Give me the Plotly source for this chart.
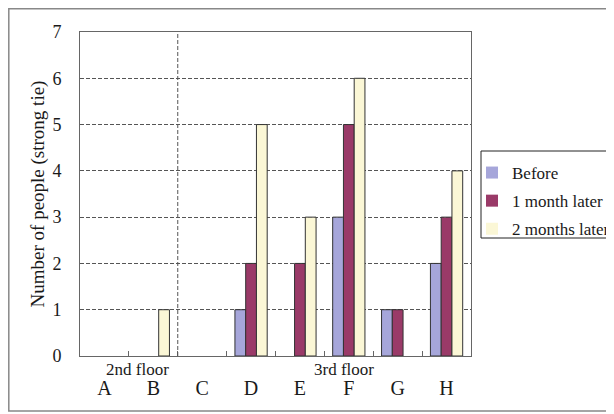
import plotly.graph_objects as go

categories = ["A", "B", "C", "D", "E", "F", "G", "H"]
before = [0, 0, 0, 1, 0, 3, 1, 2]
one_month = [0, 0, 0, 2, 2, 5, 1, 3]
two_months = [0, 1, 0, 5, 3, 6, 0, 4]
series_names = ["Before", "1 month later", "2 months later"]
colors = ["#A6A6DA", "#9A3A68", "#FBF7D6"]
y_ticks = [0, 1, 2, 3, 4, 5, 6, 7]

FONT = "Liberation Serif, Times New Roman, serif"
TXT = "#1a1a1a"

# page body has an 8px margin; positions below are in reference-screen pixels
OFF = 8
W, H = 614 - OFF, 414 - OFF
L = 80 - OFF
T = 32 - OFF
R = W - (471 - OFF)
B = H - (356 - OFF)
pw, ph = W - L - R, H - T - B

def px_x(p):
    return (p - OFF - L) / pw

def px_y(p):
    return (H - B - (p - OFF)) / ph

fig = go.Figure()
for i, (name, vals, col) in enumerate(zip(series_names, [before, one_month, two_months], colors)):
    fig.add_trace(go.Bar(
        x=categories, y=vals, name=name, legendgroup=name,
        marker=dict(color=col,
                    line=dict(color="#333333", width=[1 if v > 0 else 0 for v in vals])),
    ))

fig.update_layout(
    width=W, height=H,
    margin=dict(l=L, r=R, t=T, b=B, autoexpand=False),
    paper_bgcolor="white", plot_bgcolor="white",
    barmode="group", bargap=0.34, bargroupgap=0,
    font=dict(family=FONT, color=TXT, size=16),
    showlegend=True,
    legend=dict(
        x=px_x(472), y=px_y(155), xanchor="left", yanchor="top",
        borderwidth=0, bgcolor="rgba(0,0,0,0)",
        font=dict(family=FONT, size=17, color=TXT),
        tracegroupgap=3, itemwidth=30,
    ),
    xaxis=dict(
        type="category", showgrid=False, zeroline=False,
        showline=True, linecolor="#666666", linewidth=1, mirror=True,
        ticks="inside", ticklen=5, tickcolor="#666666", tickson="boundaries",
        tickfont=dict(family=FONT, size=20, color=TXT),
        ticklabelstandoff=14,
        range=[-0.5, 7.5],
    ),
    yaxis=dict(
        range=[0, 7], tickvals=y_ticks, showgrid=True,
        gridcolor="#555555", griddash="4px,2px", gridwidth=1,
        zeroline=False, showline=True, linecolor="#666666", linewidth=1, mirror=True,
        ticks="", ticklabelstandoff=14,
        tickfont=dict(family=FONT, size=18, color=TXT),
        title=dict(text="Number of people (strong tie)", standoff=2,
                   font=dict(family=FONT, size=19, color=TXT)),
    ),
)

# floor divider
fig.add_shape(type="line", xref="x", yref="paper", x0=1.5, x1=1.5, y0=0, y1=1,
              line=dict(color="#555555", width=1, dash="4px,2px"))

# outer frame
fig.add_shape(type="rect", xref="paper", yref="paper",
              x0=px_x(OFF + 0.8), x1=px_x(640), y0=px_y(411), y1=px_y(OFF + 0.8),
              line=dict(color="#888888", width=1.5), layer="below")

# legend box
fig.add_shape(type="rect", xref="paper", yref="paper",
              x0=px_x(481), x1=px_x(640), y0=px_y(238), y1=px_y(151),
              line=dict(color="#222222", width=1), layer="above")

fig.add_annotation(text="2nd floor", xref="paper", yref="paper",
                   x=px_x(137), y=px_y(369), xanchor="center", yanchor="middle",
                   showarrow=False, font=dict(family=FONT, size=17, color=TXT))
fig.add_annotation(text="3rd floor", xref="paper", yref="paper",
                   x=px_x(344), y=px_y(369), xanchor="center", yanchor="middle",
                   showarrow=False, font=dict(family=FONT, size=17, color=TXT))

fig.write_html("out.html")
